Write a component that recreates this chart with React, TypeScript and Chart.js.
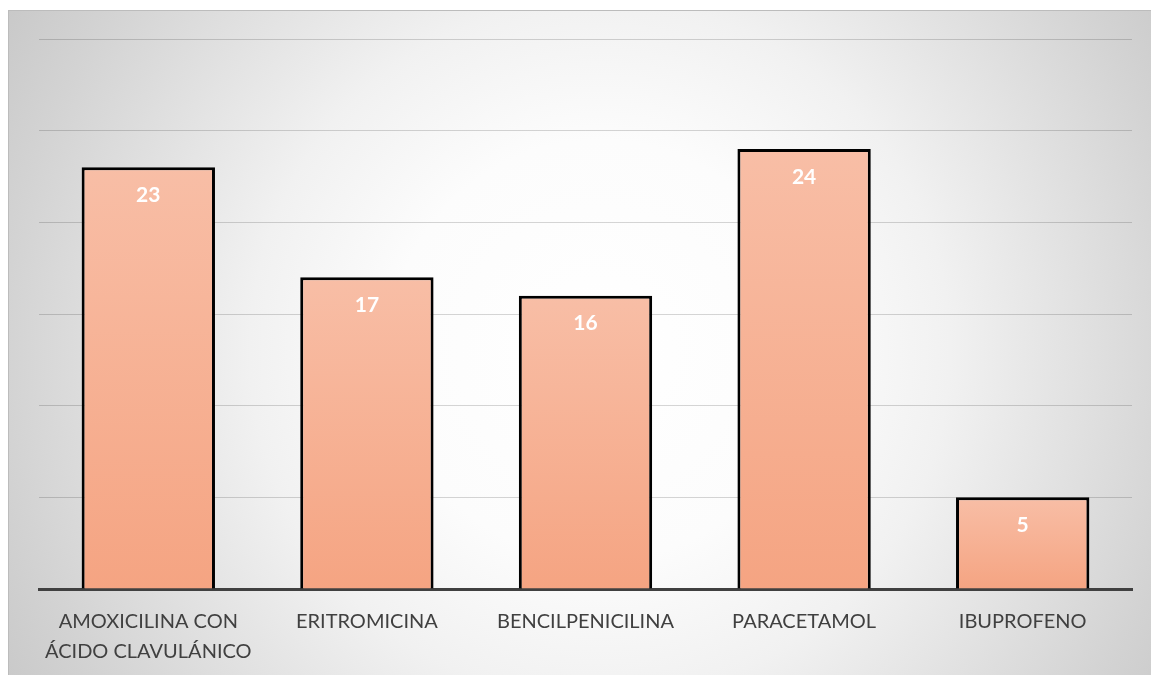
import React, { useEffect, useRef } from "react";
import { Chart, registerables } from "chart.js";

Chart.register(...registerables);

const categories: (string | string[])[] = [
  ["AMOXICILINA CON", "ÁCIDO CLAVULÁNICO"],
  "ERITROMICINA",
  "BENCILPENICILINA",
  "PARACETAMOL",
  "IBUPROFENO",
];
const values = [23, 17, 16, 24, 5];
const yMax = 30;
const yStep = 5;

const bgPlugin = {
  id: "bgPlugin",
  beforeDraw(chart: any) {
    const { ctx, width, height } = chart;
    ctx.save();
    const g = ctx.createRadialGradient(592, 342, 0, 592, 342, 700);
    g.addColorStop(0, "#ffffff");
    g.addColorStop(0.3, "#fcfcfc");
    g.addColorStop(0.5, "#f1f1f1");
    g.addColorStop(0.85, "#d3d3d3");
    g.addColorStop(1, "#c7c7c7");
    ctx.fillStyle = "#ffffff";
    ctx.fillRect(0, 0, width, height);
    ctx.fillStyle = g;
    ctx.fillRect(0, 2, width, height - 2);
    ctx.strokeStyle = "#bcbcbc";
    ctx.lineWidth = 1;
    ctx.strokeRect(0.5, 2.5, width + 5, height + 5);
    ctx.restore();
  },
};

const labelPlugin = {
  id: "labelPlugin",
  afterDatasetsDraw(chart: any) {
    const { ctx } = chart;
    const meta = chart.getDatasetMeta(0);
    ctx.save();
    ctx.fillStyle = "#ffffff";
    ctx.font = "bold 21px Lato";
    ctx.textAlign = "center";
    ctx.textBaseline = "middle";
    meta.data.forEach((bar: any, i: number) => {
      ctx.fillText(String(values[i]), bar.x, bar.y + 28);
    });
    ctx.restore();
  },
};

export default function App() {
  const ref = useRef<HTMLCanvasElement>(null);
  useEffect(() => {
    if (!ref.current) return;
    const chart = new Chart(ref.current, {
      type: "bar",
      data: {
        labels: categories,
        datasets: [
          {
            data: values,
            backgroundColor: (c: any) => {
              const ch = c.chart;
              if (c.type !== "data" || !ch.chartArea) return "#f6b090";
              const y = ch.scales.y;
              const top = y.getPixelForValue(c.parsed.y);
              const base = y.getPixelForValue(0);
              const g = ch.ctx.createLinearGradient(0, top, 0, base);
              g.addColorStop(0, "#f8bea6");
              g.addColorStop(1, "#f5a482");
              return g;
            },
            borderColor: "#000000",
            borderWidth: 3,
            borderSkipped: "start",
            barPercentage: 0.61,
            categoryPercentage: 1,
          },
        ],
      },
      options: {
        responsive: false,
        animation: false,
        layout: { padding: { left: 31, right: 27, top: 31, bottom: -10 } },
        plugins: { legend: { display: false }, tooltip: { enabled: false } },
        scales: {
          x: {
            grid: { display: false, drawTicks: false },
            border: { color: "#404040", width: 3 },
            ticks: {
              color: "#404040",
              font: { family: "Lato", size: 20, lineHeight: 1.5 },
              padding: 18,
              maxRotation: 0,
              autoSkip: false,
            },
          },
          y: {
            min: 0,
            max: yMax,
            ticks: { display: false, stepSize: yStep },
            grid: { color: "rgba(0,0,0,0.16)", lineWidth: 1, drawTicks: false },
            border: { display: false },
          },
        },
      },
      plugins: [bgPlugin, labelPlugin],
    });
    return () => chart.destroy();
  }, []);
  return (
    <canvas ref={ref} width={1151} height={667} style={{ display: "block" }} />
  );
}
